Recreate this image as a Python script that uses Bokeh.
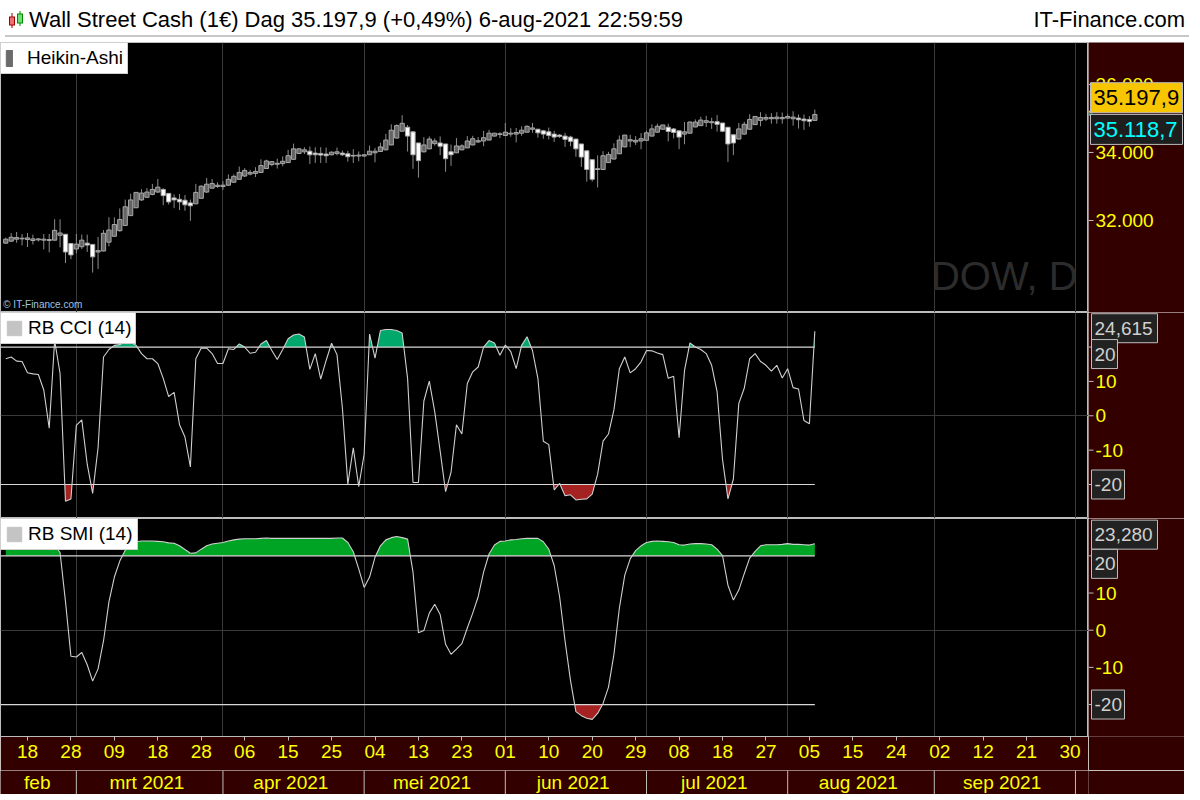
import numpy as np
from bokeh.plotting import figure
from bokeh.layouts import column, row
from bokeh.models import (Range1d, FixedTicker, Grid, Label, Legend, LegendItem, Div)
from bokeh.embed import file_html
from bokeh.resources import INLINE
from bokeh.core.properties import value

# ---------------------------------------------------------------- data
# bar index 0 = 18 feb 2021 ; bars run from 14 feb (index -4) to 6 aug 2021 (index 145)
first_bar = -4

ha_open = [31335, 31393, 31451, 31460, 31441, 31412, 31431, 31422, 31412, 31422,
           31566, 31595, 31325, 31162, 31229, 31335, 31297, 31075, 31104, 31364,
           31537, 31701, 31855, 32143, 32374, 32605, 32682, 32768, 32836, 32913,
           32797, 32663, 32624, 32595, 32518, 32489, 32653, 32836, 32951, 32999,
           32999, 33038, 33124, 33211, 33307, 33365, 33384, 33413, 33528, 33644,
           33654, 33673, 33702, 33798, 33971, 34019, 34038, 33981, 33971, 33952,
           33932, 33971, 33981, 33961, 33913, 33894, 33894, 33932, 33990, 34029,
           34077, 34221, 34423, 34625, 34741, 34606, 34279, 34019, 34106, 34260,
           34279, 34250, 34019, 33990, 34077, 34135, 34221, 34308, 34337, 34365,
           34481, 34529, 34500, 34539, 34539, 34567, 34596, 34683, 34683, 34635,
           34606, 34539, 34510, 34481, 34452, 34394, 34250, 34048, 33788, 33519,
           33500, 33702, 33807, 33961, 34163, 34337, 34308, 34337, 34356, 34481,
           34596, 34683, 34741, 34692, 34635, 34539, 34567, 34750, 34789, 34885,
           34875, 34904, 34866, 34741, 34519, 34394, 34539, 34683, 34818, 34943,
           34981, 34991, 34991, 34991, 35010, 34991, 35010, 34981, 34971, 34943]
ha_close = [31451, 31508, 31499, 31479, 31489, 31460, 31460, 31451, 31441, 31710,
            31633, 31075, 30989, 31306, 31422, 31277, 30931, 31114, 31624, 31720,
            31883, 32028, 32403, 32605, 32826, 32807, 32836, 32913, 32980, 32730,
            32547, 32605, 32547, 32461, 32432, 32826, 33009, 33067, 33086, 33038,
            33038, 33211, 33298, 33413, 33471, 33413, 33442, 33615, 33750, 33730,
            33682, 33740, 33904, 34106, 34106, 34077, 33932, 33932, 33923, 33904,
            34009, 34019, 33932, 33875, 33894, 33923, 33932, 34038, 34038, 34163,
            34365, 34654, 34789, 34856, 34481, 33932, 33759, 34221, 34394, 34337,
            34183, 33817, 33932, 34192, 34192, 34337, 34404, 34346, 34433, 34567,
            34567, 34548, 34596, 34567, 34587, 34654, 34769, 34721, 34577, 34539,
            34500, 34452, 34471, 34385, 34327, 34106, 33865, 33500, 33211, 33500,
            33904, 33942, 34106, 34365, 34510, 34375, 34356, 34404, 34577, 34692,
            34769, 34808, 34616, 34587, 34452, 34606, 34894, 34894, 34952, 34933,
            34904, 34827, 34625, 34250, 34279, 34692, 34827, 34971, 35058, 35029,
            35029, 35029, 35039, 35029, 35058, 35039, 34962, 34933, 34914, 35116]
ha_high = [31499, 31633, 31662, 31604, 31633, 31585, 31479, 31604, 31604, 32037,
           32037, 31595, 31325, 31604, 31585, 31585, 31297, 31518, 31720, 32095,
           32095, 32355, 32615, 32788, 32826, 32922, 32951, 33076, 33221, 32951,
           32797, 32768, 32778, 32749, 32615, 33076, 33038, 33249, 33221, 33124,
           33153, 33355, 33355, 33586, 33538, 33490, 33567, 33798, 33788, 33750,
           33817, 33884, 34077, 34260, 34125, 34154, 34173, 34154, 34154, 34144,
           34029, 34144, 34058, 34048, 34096, 34029, 33932, 34202, 34135, 34288,
           34548, 34827, 34827, 35097, 34808, 34606, 34279, 34452, 34471, 34413,
           34471, 34250, 34231, 34423, 34240, 34481, 34490, 34452, 34635, 34664,
           34567, 34596, 34866, 34712, 34721, 34769, 34798, 34866, 34692, 34664,
           34731, 34635, 34539, 34577, 34490, 34394, 34250, 34048, 33788, 33913,
           34038, 34019, 34269, 34500, 34519, 34519, 34481, 34567, 34644, 34827,
           34846, 34808, 34846, 34721, 34635, 34894, 34914, 34971, 35048, 35077,
           35020, 35097, 34866, 34741, 34519, 34866, 34904, 35125, 35068, 35183,
           35135, 35154, 35183, 35173, 35125, 35212, 35116, 35116, 35068, 35260]
ha_low = [31316, 31374, 31345, 31268, 31220, 31297, 31383, 31152, 31066, 31412,
          31210, 30748, 30864, 31037, 31162, 31075, 30469, 30575, 31095, 31239,
          31527, 31672, 31845, 32134, 32365, 32576, 32672, 32740, 32807, 32451,
          32470, 32364, 32307, 32287, 31989, 32489, 32643, 32817, 32942, 32961,
          32903, 33019, 33115, 33201, 33278, 33326, 33278, 33403, 33519, 33596,
          33528, 33596, 33692, 33788, 33952, 33952, 33663, 33692, 33692, 33692,
          33913, 33913, 33894, 33730, 33692, 33740, 33884, 33923, 33711, 34019,
          34067, 34211, 34413, 34616, 34029, 33519, 33259, 34000, 34096, 34202,
          33923, 33432, 33605, 33981, 34067, 34125, 34211, 34279, 34183, 34356,
          34471, 34423, 34490, 34462, 34298, 34490, 34587, 34577, 34433, 34404,
          34385, 34308, 34423, 34163, 34183, 33875, 33577, 33144, 33144, 32970,
          33490, 33692, 33798, 33952, 34154, 34154, 34221, 34096, 34356, 34471,
          34587, 34673, 34327, 34413, 34096, 34240, 34558, 34741, 34779, 34750,
          34692, 34616, 34596, 33721, 33923, 34385, 34529, 34673, 34808, 34769,
          34923, 34846, 34846, 34846, 35000, 34789, 34702, 34664, 34760, 34933]

cci = [16.6, 17.1, 15.9, 15.8, 12.5, 12.2, 12.0, 7.5, -3.6, 21.9,
       12.3, -24.9, -24.2, -2.8, -1.2, -14.1, -22.6, -9.3, 17.1, 19.3,
       20.5, 20.7, 21.6, 21.4, 20.5, 18.1, 16.6, 16.6, 15.2, 10.9,
       5.6, 6.8, -2.6, -6.2, -14.9, 16.6, 19.7, 19.7, 18.1, 15.2,
       15.2, 19.5, 19.3, 20.9, 20.0, 18.2, 18.5, 20.9, 21.9, 19.0,
       16.4, 19.3, 22.4, 23.5, 23.8, 22.9, 13.5, 18.1, 10.7, 16.1,
       21.1, 17.8, 2.2, -19.9, -9.3, -20.6, -11.2, 23.8, 16.8, 24.8,
       25.1, 25.1, 24.8, 24.1, 10.9, -19.4, -19.4, 4.3, 10.1, 1.2,
       -10.3, -22.1, -16.5, -2.6, -5.3, 9.4, 12.8, 14.2, 20.0, 21.9,
       21.2, 17.6, 20.6, 18.7, 13.7, 20.5, 23.0, 19.0, 10.9, -7.4,
       -8.4, -21.6, -19.7, -23.3, -23.0, -24.5, -24.3, -24.2, -22.8, -17.0,
       -7.4, -5.3, 1.7, 13.7, 17.1, 12.5, 13.7, 15.7, 19.0, 18.9,
       18.3, 17.8, 10.9, 11.5, -6.4, 13.2, 21.2, 20.0, 19.3, 18.1,
       14.7, 7.0, -12.7, -24.2, -18.4, 3.6, 8.0, 16.6, 18.1, 15.8,
       14.7, 13.0, 14.7, 11.0, 13.7, 8.2, 7.8, -1.4, -2.3, 24.615]

smi = [23.0, 23.3, 23.6, 23.8, 23.9, 24.0, 24.0, 23.9, 23.5, 22.8,
       20.9, 7.7, -7.0, -7.2, -6.0, -9.3, -13.7, -10.4, -2.9, 7.6,
       14.3, 18.6, 21.5, 23.2, 23.8, 24.0, 24.0, 24.0, 23.9, 23.8,
       23.5, 23.4, 22.7, 21.7, 20.7, 20.8, 21.8, 22.7, 23.2, 23.4,
       23.6, 24.0, 24.3, 24.5, 24.6, 24.6, 24.6, 24.7, 24.8, 24.7,
       24.7, 24.7, 24.7, 24.7, 24.7, 24.7, 24.7, 24.7, 24.7, 24.7,
       24.7, 24.8, 24.8, 23.6, 21.1, 16.5, 11.5, 14.3, 19.6, 22.7,
       24.3, 24.9, 25.2, 24.9, 24.5, 15.6, -0.7, -0.1, 4.6, 7.0,
       4.2, -3.8, -6.5, -5.1, -3.6, 0.6, 4.6, 9.0, 15.6, 20.5,
       22.9, 23.9, 24.0, 24.3, 24.4, 24.6, 24.7, 24.7, 24.7, 23.8,
       21.8, 17.4, 9.0, -2.9, -13.5, -21.9, -23.0, -23.7, -24.0, -22.4,
       -19.7, -15.3, -6.5, 5.9, 14.8, 19.2, 21.4, 22.7, 23.6, 23.9,
       24.0, 23.9, 23.8, 23.6, 23.0, 22.9, 23.2, 23.3, 23.3, 23.2,
       23.0, 21.8, 20.1, 12.1, 8.1, 10.8, 15.2, 19.4, 21.2, 22.7,
       23.0, 23.0, 23.0, 23.1, 23.3, 23.1, 23.1, 23.0, 22.9, 23.28]

day_ticks = [0, 8, 16, 24, 32, 40, 48, 56, 64, 72, 80, 88, 96, 104, 112, 120,
             128, 136, 144, 152, 160, 168, 176, 184, 192]
day_labels = ["18", "28", "09", "18", "28", "06", "15", "25", "04", "13", "23", "01",
              "10", "20", "29", "08", "18", "27", "05", "15", "24", "02", "12", "21", "30"]
month_starts = [9, 36, 62, 88, 114, 140, 167, 193]
month_centers = [1.8, 22, 48.5, 74.5, 100.5, 126.5, 153, 179.5]
month_names = ["feb", "mrt 2021", "apr 2021", "mei 2021", "jun 2021", "jul 2021",
               "aug 2021", "sep 2021"]

price_ticks = [32000, 34000, 36000]
price_tick_labels = ["32.000", "34.000", "36.000"]
last_price, last_price_label = 35197.9, "35.197,9"
ref_price, ref_price_label = 35118.7, "35.118,7"
osc_ticks = [-10, 0, 10]
osc_tick_labels = ["-10", "0", "10"]
osc_upper, osc_lower = 20, -20
cci_last_label = "24,615"
smi_last_label = "23,280"

# ---------------------------------------------------------------- style
FONT = "Liberation Sans"
MAROON = "#330000"
YELLOW = "#ffff00"
GRID = "#3a3a3a"
AXC = "#bdbdbd"
MW, SW = 1088, 96
X0, X1 = -4.97, 195.4

o = np.array(ha_open, float)
c = np.array(ha_close, float)
h = np.array(ha_high, float)
lo = np.array(ha_low, float)
bar = np.arange(len(c)) + first_bar
cci_a = np.array(cci, float)
smi_a = np.array(smi, float)
nan1 = [np.nan]

x_range = Range1d(X0, X1)
FRAME_H = {}


def panel(height, y_range, bottom=0):
    main = figure(width=MW, height=height, x_range=x_range, y_range=y_range,
                  output_backend="svg", toolbar_location=None,
                  x_axis_location=("below" if bottom else None), y_axis_location=None,
                  min_border=0, min_border_bottom=bottom,
                  background_fill_color="#000000", border_fill_color=MAROON,
                  outline_line_color=AXC)
    main.grid.visible = False
    main.add_layout(Grid(dimension=0, ticker=FixedTicker(ticks=month_starts),
                         grid_line_color=GRID))
    side = figure(width=SW, height=height, x_range=Range1d(0, SW), y_range=y_range,
                  output_backend="svg", toolbar_location=None,
                  x_axis_location=None, y_axis_location=None,
                  min_border=0, min_border_bottom=bottom,
                  background_fill_color=MAROON, border_fill_color=MAROON,
                  outline_line_color=None)
    side.grid.visible = False
    FRAME_H[side.id] = height - bottom
    return main, side


def axis_ticks(side, ticks, labels):
    side.segment(x0=0, y0=ticks, x1=5, y1=ticks, line_color=AXC, line_width=1)
    side.text(x=7, y=ticks, text=labels, text_align="left", text_baseline="middle",
              text_color=YELLOW, text_font=value(FONT), text_font_size="19px")


def box(side, y, text, w, dy=0, hpx=29, size="19px", color="#d0d0d0", bg="#222222",
        x=3):
    # dy: vertical shift of the box in pixels (positive = down)
    span = side.y_range.end - side.y_range.start
    yc = y - dy * span / FRAME_H[side.id]
    side.rect(x=[x + w / 2], y=[yc], width=w, height=hpx, height_units="screen",
              fill_color=bg, line_color=AXC, line_width=1)
    side.text(x=[x + 3], y=[yc], text=[text], text_align="left",
              text_baseline="middle", text_color=color, text_font=value(FONT),
              text_font_size=size)


def legend_box(p, text, color, gw, gh, standoff):
    dummy = p.quad(left=nan1, right=nan1, top=nan1, bottom=nan1, fill_color=color,
                   line_color=color)
    leg = Legend(items=[LegendItem(label=text, renderers=[dummy])],
                 location="top_left", margin=0, padding=4, spacing=0,
                 glyph_width=gw, glyph_height=gh, label_standoff=standoff,
                 label_text_font=FONT, label_text_font_size="19px",
                 label_text_color="black", label_height=20,
                 background_fill_color="white", background_fill_alpha=1.0,
                 border_line_color="#a0a0a0")
    p.add_layout(leg)


def clipped(xv, yv, t, above):
    xs, ys = [], []
    for i in range(len(xv)):
        if i:
            a, b = yv[i - 1], yv[i]
            if (a - t) * (b - t) < 0:
                f = (t - a) / (b - a)
                xs.append(xv[i - 1] + f * (xv[i] - xv[i - 1]))
                ys.append(t)
        xs.append(xv[i])
        ys.append(yv[i])
    ys = np.array(ys)
    return np.array(xs), (np.maximum(ys, t) if above else np.minimum(ys, t))


def oscillator(p, side, vals, green, red):
    xs, top = clipped(bar, vals, osc_upper, True)
    p.varea(x=xs, y1=osc_upper, y2=top, fill_color=green)
    xs, bot = clipped(bar, vals, osc_lower, False)
    p.varea(x=xs, y1=osc_lower, y2=bot, fill_color=red)
    p.segment(x0=[X0, X0], y0=[osc_upper, osc_lower], x1=[bar[-1], bar[-1]],
              y1=[osc_upper, osc_lower], line_color="#d8d8d8", line_width=1.2)
    p.line(bar, vals, line_color="#cfcfcf", line_width=1.1)
    p.add_layout(Grid(dimension=1, ticker=FixedTicker(ticks=[0]),
                      grid_line_color=GRID))
    axis_ticks(side, osc_ticks + [osc_upper, osc_lower], osc_tick_labels + ["", ""])


# ---------------------------------------------------------------- header
header = Div(text=(
    '<div style="width:1184px;height:32px;box-sizing:border-box;background:#ffffff;'
    'border-bottom:2px solid #c8c8c8;display:flex;align-items:center;'
    'justify-content:space-between;font-family:\'Liberation Sans\',Arial;font-size:22px;'
    'color:#000;padding:0 4px 0 3px;white-space:nowrap;">'
    '<span style="display:flex;align-items:center;">'
    '<svg width="18" height="20" style="margin-right:3px">'
    '<line x1="4" y1="3" x2="4" y2="18" stroke="#900"/>'
    '<rect x="1.5" y="7" width="5" height="8" fill="#f07070" stroke="#900"/>'
    '<line x1="12" y1="1" x2="12" y2="16" stroke="#080"/>'
    '<rect x="9.5" y="4" width="5" height="9" fill="#70e070" stroke="#080"/></svg>'
    'Wall Street Cash (1€) Dag 35.197,9 (+0,49%) 6-aug-2021 22:59:59</span>'
    '<span>IT-Finance.com</span></div>'), width=MW + SW, height=32)

# ---------------------------------------------------------------- price panel
p1, s1 = panel(270, Range1d(29296, 37232))
up = c >= o
p1.segment(x0=bar, y0=lo, x1=bar, y1=h, line_color="#8c8c8c", line_width=1)
p1.vbar(x=bar[up], width=0.78, bottom=o[up], top=c[up], fill_color="#646464",
        line_color="#a8a8a8")
p1.vbar(x=bar[~up], width=0.78, bottom=c[~up], top=o[~up], fill_color="#ffffff",
        line_color="#a8a8a8")
p1.add_layout(Label(x=X1 - 2, y=30364, text="DOW, D", text_align="right",
                    text_baseline="middle", text_font=FONT, text_font_size="40px",
                    text_color="#2c2c2c", level="underlay"))
p1.add_layout(Label(x=X0 + 0.5, y=29296, y_offset=3, text="© IT-Finance.com",
                    text_align="left", text_baseline="bottom", text_font=FONT,
                    text_font_size="10px", text_color="#9cc4e4"))
legend_box(p1, "Heikin-Ashi", "#6a6a6a", 8, 20, 14)
axis_ticks(s1, price_ticks, price_tick_labels)
s1.segment(x0=0, y0=[last_price], x1=4, y1=[last_price], line_color="#f5c400", line_width=2)
s1.segment(x0=0, y0=[ref_price], x1=4, y1=[ref_price], line_color="#00e0e0", line_width=2)
box(s1, last_price, last_price_label, 92, dy=-14, hpx=30, size="22px",
    color="#000000", bg="#f7c600", x=2)
box(s1, ref_price, ref_price_label, 92, dy=15, hpx=30, size="22px",
    color="#00ffff", bg="#1e1e1e", x=2)

# ---------------------------------------------------------------- CCI panel
p2, s2 = panel(206, Range1d(-29.9, 30.06))
oscillator(p2, s2, cci_a, "#00a86b", "#a52222")
box(s2, cci_a[-1], cci_last_label, 66, dy=-3)
box(s2, osc_upper, str(osc_upper), 26, dy=7)
box(s2, osc_lower, str(osc_lower), 33)
legend_box(p2, "RB CCI (14)", "#c4c4c4", 18, 18, 5)

# ---------------------------------------------------------------- SMI panel
p3, s3 = panel(252, Range1d(-28.6, 30.05), bottom=34)
oscillator(p3, s3, smi_a, "#00a424", "#a52222")
box(s3, smi_a[-1], smi_last_label, 66, dy=-9)
box(s3, osc_upper, str(osc_upper), 26, dy=8)
box(s3, osc_lower, str(osc_lower), 33)
legend_box(p3, "RB SMI (14)", "#c4c4c4", 18, 18, 5)

xa = p3.xaxis[0]
xa.ticker = FixedTicker(ticks=day_ticks)
xa.major_label_overrides = dict(zip(day_ticks, day_labels))
xa.axis_line_color = AXC
xa.major_tick_line_color = AXC
xa.major_tick_in = 0
xa.major_tick_out = 4
xa.minor_tick_line_color = None
xa.major_label_text_color = YELLOW
xa.major_label_text_font = FONT
xa.major_label_text_font_size = "19px"
xa.major_label_standoff = 4

# ---------------------------------------------------------------- month row
p4 = figure(width=MW + SW, height=24, x_range=x_range, y_range=Range1d(0, 1),
            output_backend="svg", toolbar_location=None, x_axis_location=None,
            y_axis_location=None, min_border=0, min_border_right=SW,
            background_fill_color=MAROON, border_fill_color=MAROON,
            outline_line_color=None)
p4.grid.visible = False
p4.segment(x0=month_starts, y0=0, x1=month_starts, y1=1, line_color=AXC)
p4.text(x=month_centers, y=[0.5] * len(month_centers), text=month_names,
        text_align="center", text_baseline="middle", text_color=YELLOW,
        text_font=value(FONT), text_font_size="19px")

layout = column(header, row(p1, s1, spacing=0), row(p2, s2, spacing=0),
                row(p3, s3, spacing=0), p4, spacing=0)
open("out.html", "w").write(file_html(layout, INLINE))
